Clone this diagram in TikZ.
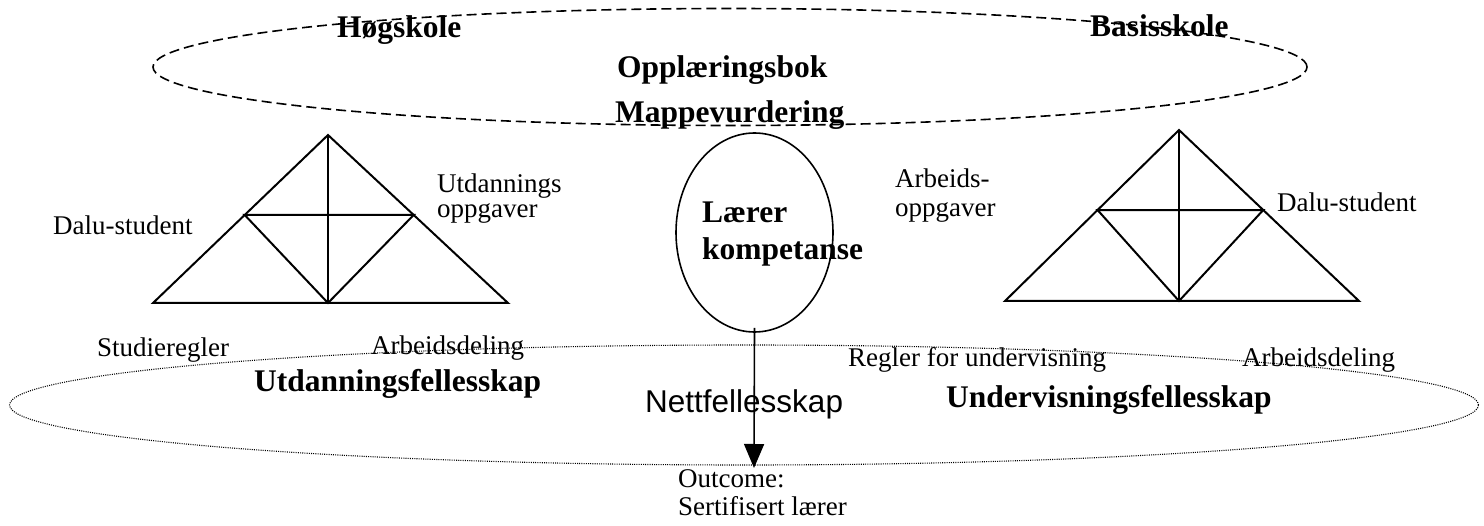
\documentclass[tikz,border=0pt]{standalone}
\usepackage{fontspec}
\setmainfont{Liberation Serif}
\newfontfamily\arialfont{Liberation Sans}
\usetikzlibrary{arrows.meta,shapes.geometric,calc}
\begin{document}
\begin{tikzpicture}[x=1pt,y=-1pt,
  txt/.style={inner sep=0pt,anchor=base west,font=\fontsize{27}{32}\selectfont},
  btxt/.style={inner sep=0pt,anchor=base west,font=\fontsize{31.5}{38}\selectfont\bfseries},
  tri/.style={line width=2pt,line join=miter},
  ell/.style={draw,ellipse,inner sep=0pt},
  dashell/.style={ell,dash pattern=on 10pt off 5pt,line width=1.6pt},
  dotell/.style={ell,dash pattern=on 1pt off 1.2pt,line width=1.1pt},
  conn/.style={line width=1.6pt,-{Triangle[width=20pt,length=24pt]}}
]
\useasboundingbox (0,0) rectangle (1484,526);
% ellipses
\node[dashell,minimum width=1154pt,minimum height=117pt] (top) at (730,67) {};
\node[dotell,minimum width=1469pt,minimum height=120pt] (bot) at (744,405) {};
\node[ell,line width=1.6pt,minimum width=157pt,minimum height=199pt] (mid) at (754.5,232.5) {};
% left triangle
\coordinate (LA) at (328,135);
\coordinate (LL) at (153,303);
\coordinate (LR) at (508,303);
\coordinate (LM) at (328,303);
\coordinate (LIl) at ($(LL)!0.524!(LA)$);
\coordinate (LIr) at ($(LR)!0.524!(LA)$);
\draw[tri] (LL) -- (LA) -- (LR) -- cycle;
\draw[tri] (LA) -- (LM);
\draw[tri] (LIl) -- (LIr) -- (LM) -- cycle;
% right triangle
\coordinate (RA) at (1179,130);
\coordinate (RL) at (1005,301);
\coordinate (RR) at (1359,301);
\coordinate (RM) at (1179,301);
\coordinate (RIl) at ($(RL)!0.532!(RA)$);
\coordinate (RIr) at ($(RR)!0.532!(RA)$);
\draw[tri] (RL) -- (RA) -- (RR) -- cycle;
\draw[tri] (RA) -- (RM);
\draw[tri] (RIl) -- (RIr) -- (RM) -- cycle;
% arrow
\coordinate (out) at (754,468);
\draw[conn] ([yshift=5pt]mid.south) -- (out);
% texts
\node[btxt] (hog) at (337,38) {Høgskole};
\node[btxt] (bas) at (1090,37) {Basisskole};
\node[btxt] (opp) at (617,78) {Opplæringsbok};
\node[btxt] (map) at (615,123) {Mappevurdering};
\node[btxt] (lar) at (702,223) {Lærer};
\node[btxt] (komp) at (702,260) {kompetanse};
\node[txt] (utd1) at (437,193) {Utdannings};
\node[txt] (utd2) at (437,218) {oppgaver};
\node[txt] (dal1) at (53,235) {Dalu-student};
\node[txt] (arb1) at (895,188) {Arbeids-};
\node[txt] (arb2) at (895,217) {oppgaver};
\node[txt] (dal2) at (1277,212) {Dalu-student};
\node[txt] (stud) at (97,357) {Studieregler};
\node[txt] (ad1) at (371,355) {Arbeidsdeling};
\node[btxt] (utf) at (254,392) {Utdanningsfellesskap};
\node[txt] (reg) at (848,367) {Regler for undervisning};
\node[txt] (ad2) at (1242,367) {Arbeidsdeling};
\node[btxt] (unf) at (946,408) {Undervisningsfellesskap};
\node[inner sep=0pt,anchor=base west,font=\fontsize{31.5}{38}\selectfont\arialfont] (net) at (645,413) {Nettfellesskap};
\node[txt] (outc) at (678,488) {Outcome:};
\node[txt] (sert) at (678,515) {Sertifisert lærer};
\end{tikzpicture}
\end{document}
